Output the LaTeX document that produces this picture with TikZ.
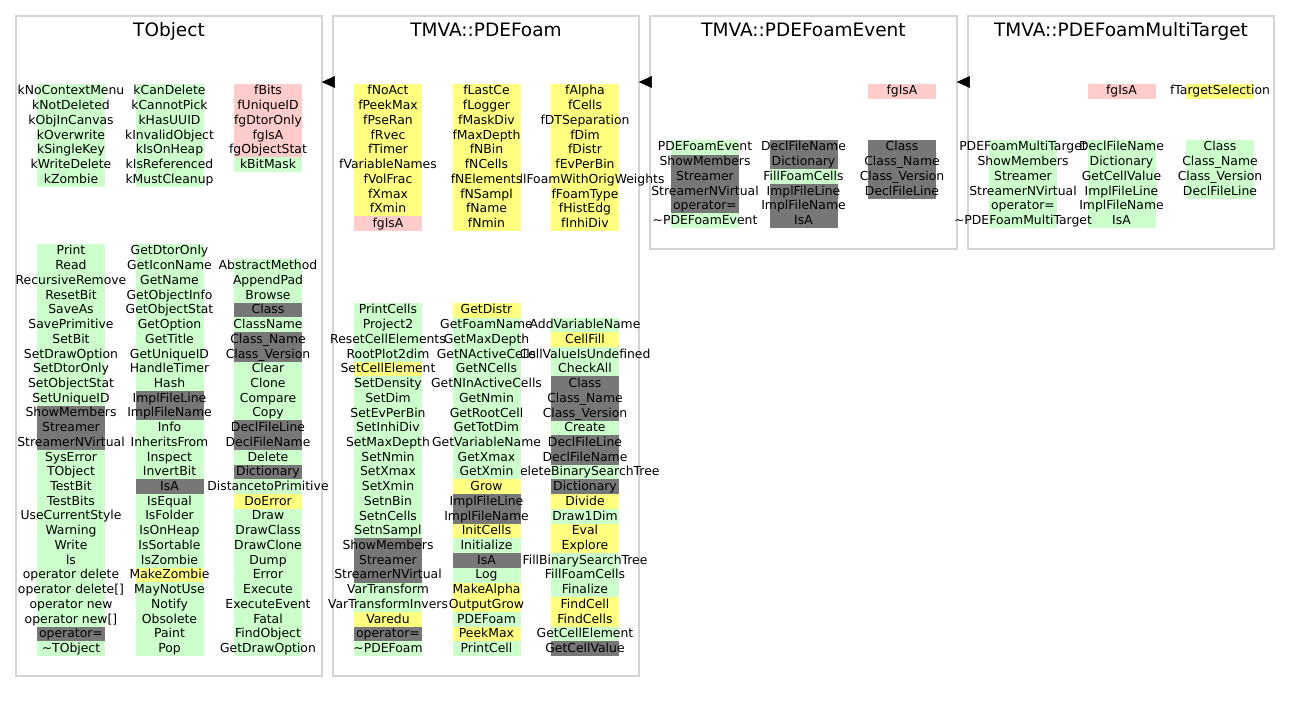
\documentclass[tikz,border=0pt]{standalone}
\usepackage{fontspec}
\setmainfont{DejaVu Sans}
% member colours: public, protected, private, undocumented
\definecolor{pub}{RGB}{204,255,204}
\definecolor{prot}{RGB}{255,255,128}
\definecolor{priv}{RGB}{255,204,204}
\definecolor{nodoc}{RGB}{119,119,119}
\definecolor{frame}{RGB}{212,212,212}
\tikzset{
  classbox/.style={draw=frame, line width=1.2pt, rectangle, inner sep=0pt},
  classtitle/.style={anchor=base, inner sep=0pt, font=\fontsize{18.5}{22}\selectfont},
  member/.style={anchor=base, inner sep=0pt, font=\fontsize{12.4}{14}\selectfont},
  inherit/.style={line width=1pt},
  inherithead/.style={fill=black, draw=black, line width=0.6pt, line join=miter},
}
% one column of members: name prefix, x centre, y top, colour/text entries
\newcommand\memberlist[4]{%
  \foreach \cc/\txt [count=\i from 0] in {#4}{
    \fill[\cc] ({#2-34},{#3+\i*14.72-0.15}) rectangle ({#2+34},{#3+(\i+1)*14.72+0.15});
    \node[member] (#1-\i) at ({#2},{#3+\i*14.72+11}) {\txt};
  }}
% inheritance connector with a filled triangular head at the base class
\newcommand\inheritarrow[2]{%
  \draw[inherit] (#1.west |- arr) -- (#2.east |- arr);
  \filldraw[inherithead] (#2.east |- arr) -- ++(12,-5.5) -- ++(0,11) -- cycle;
}
\begin{document}
\begin{tikzpicture}[x=1pt,y=-1pt]
\fill[white] (0,0) rectangle (1291,703);
\useasboundingbox (0,0) rectangle (1291,703);

% class frames
\node[classbox, minimum width=306pt, minimum height=660pt] (tobj) at (169,346) {};
\node[classbox, minimum width=306pt, minimum height=660pt] (foam) at (486,346) {};
\node[classbox, minimum width=307pt, minimum height=233pt] (event) at (803.5,132.5) {};
\node[classbox, minimum width=306pt, minimum height=233pt] (multi) at (1121,132.5) {};

\node[classtitle] (tobjT) at (169,37) {TObject};
\node[classtitle] (foamT) at (486,37) {TMVA::PDEFoam};
\node[classtitle] (eventT) at (803.5,37) {TMVA::PDEFoamEvent};
\node[classtitle] (multiT) at (1121,37) {TMVA::PDEFoamMultiTarget};

% ---------------- TObject ----------------
\memberlist{toa3}{268}{84}{priv/fBits, priv/fUniqueID, priv/fgDtorOnly, priv/fgIsA, priv/fgObjectStat, pub/kBitMask}
\memberlist{toa2}{169.5}{84}{pub/kCanDelete, pub/kCannotPick, pub/kHasUUID, pub/kInvalidObject, pub/kIsOnHeap, pub/kIsReferenced, pub/kMustCleanup}
\memberlist{toa1}{71}{84}{pub/kNoContextMenu, pub/kNotDeleted, pub/kObjInCanvas, pub/kOverwrite, pub/kSingleKey, pub/kWriteDelete, pub/kZombie}

\memberlist{tob3}{268}{258.72}{pub/AbstractMethod, pub/AppendPad, pub/Browse, nodoc/Class, pub/ClassName, nodoc/Class\_Name, nodoc/Class\_Version, pub/Clear, pub/Clone, pub/Compare, pub/Copy, nodoc/DeclFileLine, nodoc/DeclFileName, pub/Delete, nodoc/Dictionary, pub/DistancetoPrimitive, prot/DoError, pub/Draw, pub/DrawClass, pub/DrawClone, pub/Dump, pub/Error, pub/Execute, pub/ExecuteEvent, pub/Fatal, pub/FindObject, pub/GetDrawOption}
\memberlist{tob2}{169.5}{244}{pub/GetDtorOnly, pub/GetIconName, pub/GetName, pub/GetObjectInfo, pub/GetObjectStat, pub/GetOption, pub/GetTitle, pub/GetUniqueID, pub/HandleTimer, pub/Hash, nodoc/ImplFileLine, nodoc/ImplFileName, pub/Info, pub/InheritsFrom, pub/Inspect, pub/InvertBit, nodoc/IsA, pub/IsEqual, pub/IsFolder, pub/IsOnHeap, pub/IsSortable, pub/IsZombie, prot/MakeZombie, pub/MayNotUse, pub/Notify, pub/Obsolete, pub/Paint, pub/Pop}
\memberlist{tob1}{71}{244}{pub/Print, pub/Read, pub/RecursiveRemove, pub/ResetBit, pub/SaveAs, pub/SavePrimitive, pub/SetBit, pub/SetDrawOption, pub/SetDtorOnly, pub/SetObjectStat, pub/SetUniqueID, nodoc/ShowMembers, nodoc/Streamer, nodoc/StreamerNVirtual, pub/SysError, pub/TObject, pub/TestBit, pub/TestBits, pub/UseCurrentStyle, pub/Warning, pub/Write, pub/ls, pub/operator delete, pub/operator delete[], pub/operator new, pub/operator new[], nodoc/operator=, pub/\textasciitilde TObject}

% ---------------- TMVA::PDEFoam ----------------
\memberlist{fa3}{585}{84}{prot/fAlpha, prot/fCells, prot/fDTSeparation, prot/fDim, prot/fDistr, prot/fEvPerBin, prot/fFillFoamWithOrigWeights, prot/fFoamType, prot/fHistEdg, prot/fInhiDiv}
\memberlist{fa2}{486.5}{84}{prot/fLastCe, prot/fLogger, prot/fMaskDiv, prot/fMaxDepth, prot/fNBin, prot/fNCells, prot/fNElements, prot/fNSampl, prot/fName, prot/fNmin}
\memberlist{fa1}{388}{84}{prot/fNoAct, prot/fPeekMax, prot/fPseRan, prot/fRvec, prot/fTimer, prot/fVariableNames, prot/fVolFrac, prot/fXmax, prot/fXmin, priv/fgIsA}

\memberlist{fb3}{585}{317.72}{pub/AddVariableName, prot/CellFill, pub/CellValueIsUndefined, pub/CheckAll, nodoc/Class, nodoc/Class\_Name, nodoc/Class\_Version, pub/Create, nodoc/DeclFileLine, nodoc/DeclFileName, pub/DeleteBinarySearchTree, nodoc/Dictionary, prot/Divide, pub/Draw1Dim, prot/Eval, prot/Explore, pub/FillBinarySearchTree, pub/FillFoamCells, pub/Finalize, prot/FindCell, prot/FindCells, pub/GetCellElement, nodoc/GetCellValue}
\memberlist{fb2}{486.5}{303}{prot/GetDistr, pub/GetFoamName, pub/GetMaxDepth, pub/GetNActiveCells, pub/GetNCells, pub/GetNInActiveCells, pub/GetNmin, pub/GetRootCell, pub/GetTotDim, pub/GetVariableName, pub/GetXmax, pub/GetXmin, prot/Grow, nodoc/ImplFileLine, nodoc/ImplFileName, prot/InitCells, pub/Initialize, nodoc/IsA, pub/Log, prot/MakeAlpha, prot/OutputGrow, pub/PDEFoam, prot/PeekMax, pub/PrintCell}
\memberlist{fb1}{388}{303}{pub/PrintCells, pub/Project2, pub/ResetCellElements, pub/RootPlot2dim, prot/SetCellElement, pub/SetDensity, pub/SetDim, pub/SetEvPerBin, pub/SetInhiDiv, pub/SetMaxDepth, pub/SetNmin, pub/SetXmax, pub/SetXmin, pub/SetnBin, pub/SetnCells, pub/SetnSampl, nodoc/ShowMembers, nodoc/Streamer, nodoc/StreamerNVirtual, pub/VarTransform, pub/VarTransformInvers, prot/Varedu, nodoc/operator=, pub/\textasciitilde PDEFoam}

% ---------------- TMVA::PDEFoamEvent ----------------
\memberlist{ea3}{902}{84}{priv/fgIsA}
\memberlist{eb3}{902}{140}{nodoc/Class, nodoc/Class\_Name, nodoc/Class\_Version, nodoc/DeclFileLine}
\memberlist{eb2}{803.5}{140}{nodoc/DeclFileName, nodoc/Dictionary, pub/FillFoamCells, nodoc/ImplFileLine, nodoc/ImplFileName, nodoc/IsA}
\memberlist{eb1}{705}{140}{pub/PDEFoamEvent, nodoc/ShowMembers, nodoc/Streamer, nodoc/StreamerNVirtual, nodoc/operator=, pub/\textasciitilde PDEFoamEvent}

% ---------------- TMVA::PDEFoamMultiTarget ----------------
\memberlist{ma3}{1220}{84}{prot/fTargetSelection}
\memberlist{ma2}{1121.5}{84}{priv/fgIsA}
\memberlist{mb3}{1220}{140}{pub/Class, pub/Class\_Name, pub/Class\_Version, pub/DeclFileLine}
\memberlist{mb2}{1121.5}{140}{pub/DeclFileName, pub/Dictionary, pub/GetCellValue, pub/ImplFileLine, pub/ImplFileName, pub/IsA}
\memberlist{mb1}{1023}{140}{pub/PDEFoamMultiTarget, pub/ShowMembers, pub/Streamer, pub/StreamerNVirtual, pub/operator=, pub/\textasciitilde PDEFoamMultiTarget}

% inheritance, drawn last so the heads sit over the frames
\coordinate (arr) at (0,82);
\inheritarrow{foam}{tobj}
\inheritarrow{event}{foam}
\inheritarrow{multi}{event}
\end{tikzpicture}
\end{document}
